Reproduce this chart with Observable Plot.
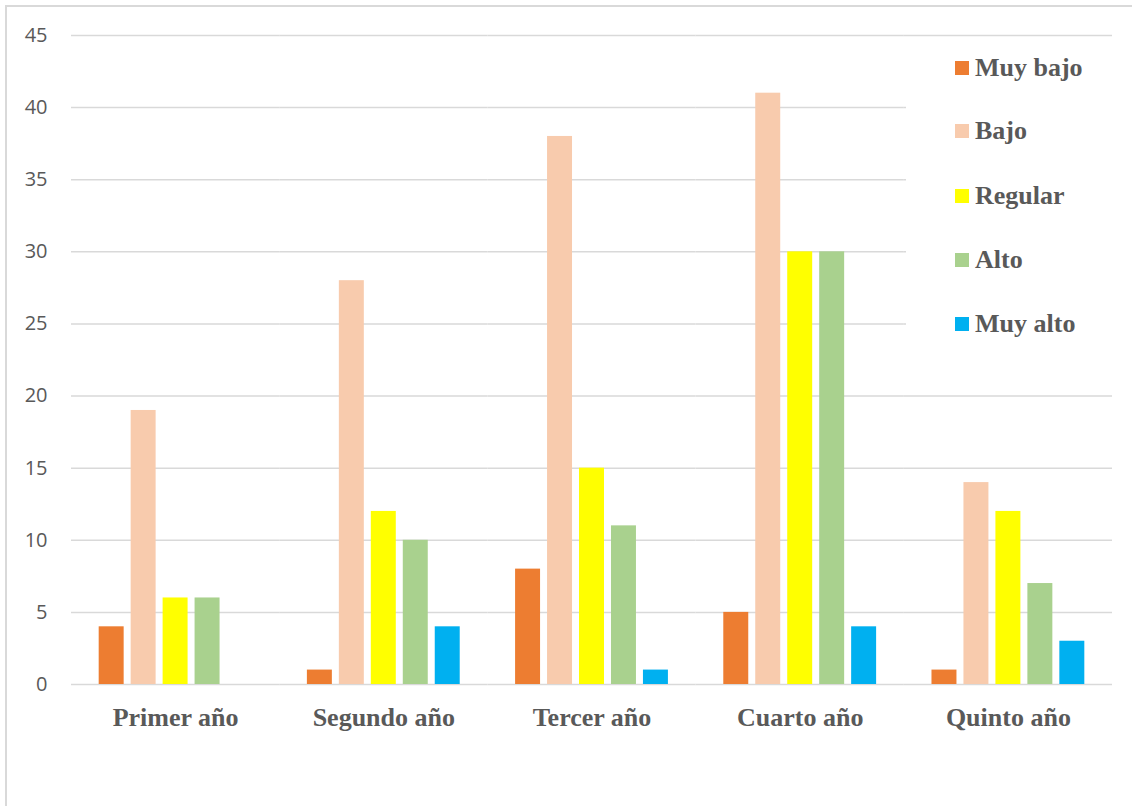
<!DOCTYPE html>
<html>
<head>
<meta charset="utf-8">
<script src="https://cdn.jsdelivr.net/npm/d3@7"></script>
<script src="https://cdn.jsdelivr.net/npm/@observablehq/plot@0.6"></script>
<style>
  html, body { margin: 0; padding: 0; background: #fff; overflow: hidden; }
  #wrap { position: relative; width: 1132px; height: 806px; overflow: hidden; }
  #border { position: absolute; left: 5px; top: 5px; width: 1140px; height: 820px;
            border: 2px solid #d9d9d9; box-sizing: border-box; pointer-events: none; }
  #chart { position: absolute; left: 0; top: 0; }
  #legend { position: absolute; left: 906px; top: 37px; width: 206px; height: 318px; background: #fff; }
  .item { position: absolute; left: 49px; display: flex; align-items: center;
          font-family: "Liberation Serif", "Times New Roman", serif; font-weight: bold;
          font-size: 26px; color: #595959; white-space: nowrap; }
  .sw { width: 14px; height: 14px; margin-right: 6px; }
</style>
</head>
<body>
<div id="wrap">
  <div id="chart"></div>
  <div id="legend"></div>
  <div id="border"></div>
</div>
<script>
const years = ["Primer año", "Segundo año", "Tercer año", "Cuarto año", "Quinto año"];
const levels = ["Muy bajo", "Bajo", "Regular", "Alto", "Muy alto"];
const colors = ["#ED7D31", "#F8CBAD", "#FFFF00", "#A9D18E", "#00B0F0"];
const muyBajo = [4, 1, 8, 5, 1];
const bajo = [19, 28, 38, 41, 14];
const regular = [6, 12, 15, 30, 12];
const alto = [6, 10, 11, 30, 7];
const muyAlto = [0, 4, 1, 4, 3];
const yTicks = [0, 5, 10, 15, 20, 25, 30, 35, 40, 45];

const series = [muyBajo, bajo, regular, alto, muyAlto];
const data = [];
years.forEach((y, i) => levels.forEach((l, j) => data.push({year: y, level: l, value: series[j][i]})));

const plot = Plot.plot({
  width: 1132,
  height: 806,
  marginLeft: 71,
  marginRight: 20,
  marginTop: 35,
  marginBottom: 122,
  style: {background: "transparent"},
  fx: {domain: years, paddingInner: 0, paddingOuter: 0, round: false, label: null},
  x: {domain: levels, paddingInner: 7/32, paddingOuter: 0.866, round: false, axis: null},
  y: {domain: [0, 45], label: null},
  color: {domain: levels, range: colors},
  marks: [
    Plot.gridY(yTicks, {stroke: "#d9d9d9", strokeOpacity: 1, strokeWidth: 1.5}),
    Plot.barY(data, {fx: "year", x: "level", y: "value", fill: "level"}),
    Plot.axisY(yTicks, {tickSize: 0, tickPadding: 24, label: null, fontSize: 20,
      fontFamily: "Open Sans, sans-serif", fill: "#595959", tickFormat: d => d}),
    Plot.axisFx({anchor: "bottom", tickSize: 0, tickPadding: 23, label: null, fontSize: 26,
      fontWeight: "bold", fontFamily: "Liberation Serif, Times New Roman, serif", fill: "#595959"})
  ]
});
document.getElementById("chart").appendChild(plot);

const legend = document.getElementById("legend");
const legendTops = [31, 94, 159, 223, 287];
levels.forEach((l, i) => {
  const d = document.createElement("div");
  d.className = "item";
  d.style.top = (legendTops[i] - 16) + "px";
  d.style.height = "32px";
  const sw = document.createElement("span");
  sw.className = "sw";
  sw.style.background = colors[i];
  const t = document.createElement("span");
  t.textContent = l;
  d.appendChild(sw);
  d.appendChild(t);
  legend.appendChild(d);
});
</script>
</body>
</html>
